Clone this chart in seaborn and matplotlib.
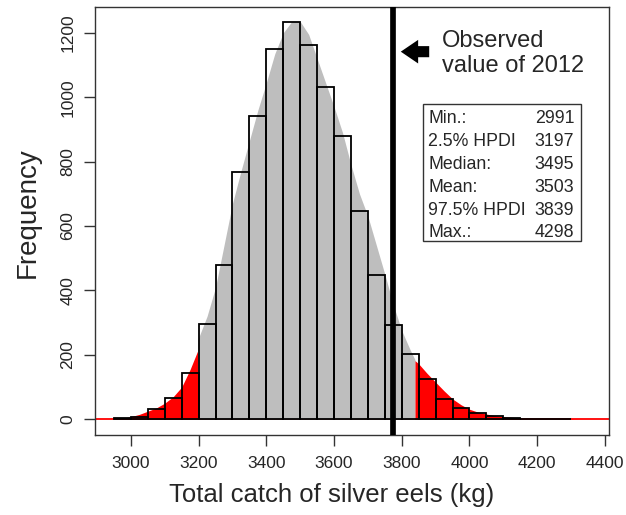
import numpy as np
import pandas as pd
import matplotlib
matplotlib.use("Agg")
import matplotlib.pyplot as plt
from matplotlib.patches import Rectangle, FancyArrowPatch
import seaborn as sns

# ---------------- data ----------------
bin_edges = [2950, 3000, 3050, 3100, 3150, 3200, 3250, 3300, 3350, 3400, 3450,
             3500, 3550, 3600, 3650, 3700, 3750, 3800, 3850, 3900, 3950, 4000,
             4050, 4100, 4150, 4200, 4250, 4300]
bin_counts = [3, 8, 33, 67, 143, 295, 478, 768, 941, 1150, 1233, 1163, 1031,
              881, 648, 447, 292, 204, 124, 64, 36, 19, 9, 4, 2, 1, 1]

# smoothed frequency curve, split into lower tail / HPDI body / upper tail
tail_low_x = [2950, 2975, 3000, 3025, 3050, 3075, 3100, 3125, 3150, 3175, 3197]
tail_low_y = [0, 3, 8, 15, 25, 35, 50, 70, 100, 155, 212]
body_x = [3197, 3225, 3250, 3275, 3300, 3325, 3350, 3375, 3400, 3425, 3450,
          3475, 3500, 3525, 3550, 3575, 3600, 3625, 3650, 3675, 3700, 3725,
          3750, 3775, 3800, 3825, 3839]
body_y = [245, 320, 410, 540, 670, 770, 865, 960, 1045, 1135, 1200, 1235,
          1235, 1195, 1120, 1045, 970, 890, 790, 700, 630, 540, 450, 355,
          275, 215, 185]
tail_high_x = [3839, 3850, 3875, 3900, 3925, 3950, 3975, 4000, 4025, 4050,
               4075, 4100, 4125, 4150, 4200, 4250, 4300, 4330]
tail_high_y = [182, 172, 142, 115, 88, 63, 45, 31, 22, 16, 11, 8, 6, 4, 2,
               1.5, 1, 0]

observed_2012 = 3774

stat_labels = ["Min.:", "2.5% HPDI", "Median:", "Mean:", "97.5% HPDI", "Max.:"]
stat_values = [2991, 3197, 3495, 3503, 3839, 4298]

x_ticks = [3000, 3200, 3400, 3600, 3800, 4000, 4200, 4400]
y_ticks = [0, 200, 400, 600, 800, 1000, 1200]

# ---------------- style ----------------
sns.set_style("white")
plt.rcParams["font.family"] = ["Liberation Sans", "DejaVu Sans"]

fig = plt.figure(figsize=(6.26, 5.15), dpi=100)
ax = fig.add_axes([95 / 626, 80 / 515, 514 / 626, 428.3 / 515])

# frequency curve
ax.axhline(0, color="red", lw=1.3, zorder=1)
ax.fill_between(tail_low_x, 0, tail_low_y, color="red", lw=0, zorder=1)
ax.fill_between(body_x, 0, body_y, color="#BEBEBE", lw=0, zorder=1)
ax.fill_between(tail_high_x, 0, tail_high_y, color="red", lw=0, zorder=1)

# histogram
mids = [(a + b) / 2 for a, b in zip(bin_edges[:-1], bin_edges[1:])]
hist_df = pd.DataFrame({"catch": mids, "n": bin_counts})
sns.histplot(data=hist_df, x="catch", weights="n", bins=bin_edges,
             fill=False, color="black", linewidth=1.3, ax=ax, zorder=2)

# observed value
ax.axvline(observed_2012, color="black", lw=4.1, zorder=3)

ax.set_xlim(2894, 4412)
ax.set_ylim(-49, 1281)
ax.set_xticks(x_ticks)
ax.set_yticks(y_ticks)
ax.tick_params(axis="both", direction="out", length=8, width=1,
               labelsize=12.5, color="#333333", bottom=True, left=True)
ax.tick_params(axis="x", pad=7)
ax.tick_params(axis="y", pad=6)
for lab in ax.get_yticklabels():
    lab.set_rotation(90)
    lab.set_va("center")
for sp in ax.spines.values():
    sp.set_color("#333333")
    sp.set_linewidth(1.0)

ax.set_xlabel("Total catch of silver eels (kg)", fontsize=18.5)
ax.set_ylabel("Frequency", fontsize=20)
ax.xaxis.set_label_coords(0.461, -0.112)
ax.yaxis.set_label_coords(-0.105, 0.52)

# annotation
arrow = FancyArrowPatch((0.6556, 0.895), (0.5895, 0.895),
                        transform=ax.transAxes,
                        arrowstyle="simple,head_length=1.25,head_width=1.7,tail_width=0.8",
                        mutation_scale=10, color="black", lw=0, zorder=4)
ax.add_patch(arrow)
ax.text(0.6745, 0.9066, "Observed", transform=ax.transAxes, fontsize=17,
        ha="left", va="baseline")
ax.text(0.6745, 0.848, "value of 2012", transform=ax.transAxes, fontsize=17,
        ha="left", va="baseline")

# statistics box
box = Rectangle((0.6387, 0.4537), 0.9455 - 0.6387, 0.7728 - 0.4537,
                transform=ax.transAxes, facecolor="white",
                edgecolor="#333333", lw=1.0, zorder=5)
ax.add_patch(box)
row_y = [0.7278, 0.6755, 0.6211, 0.5667, 0.5137, 0.4616]
for lab, val, yy in zip(stat_labels, stat_values, row_y):
    ax.text(0.6484, yy, lab, transform=ax.transAxes, fontsize=12.8,
            ha="left", va="baseline", zorder=6)
    ax.text(0.9325, yy, f"{val}", transform=ax.transAxes, fontsize=12.8,
            ha="right", va="baseline", zorder=6)

fig.savefig("out.png", dpi=100)
